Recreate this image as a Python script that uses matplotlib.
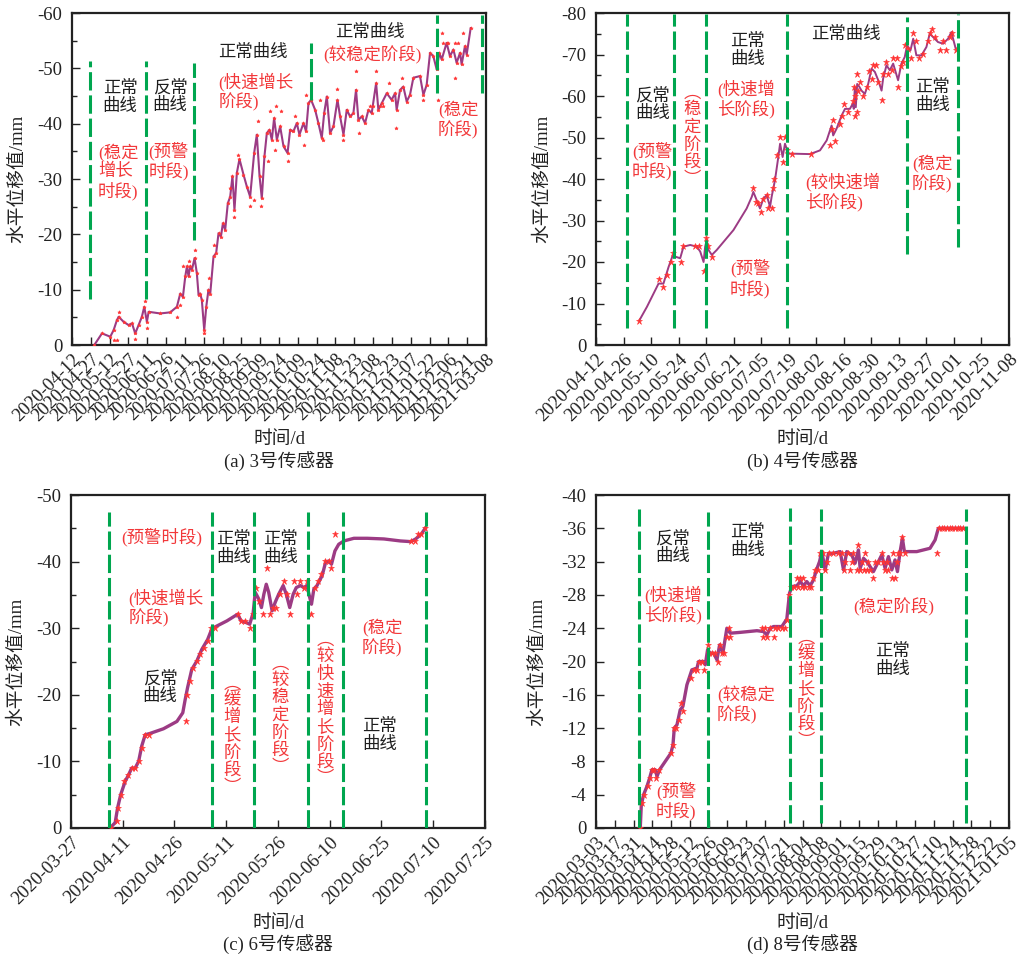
import numpy as np
import pandas as pd
import matplotlib
matplotlib.use("Agg")
import matplotlib.pyplot as plt

plt.rcParams["font.family"] = ["Liberation Serif", "Noto Sans CJK SC"]
plt.rcParams["axes.unicode_minus"] = False

LINE_C = "#9C3B84"
STAR_C = "#FF3434"
GREEN = "#00A64F"
RED_T = "#F2383A"
BLACK_T = "#1E1E1E"

# ---------------- sensor 3 ----------------
A_START = "2020-04-12"
A_STEP = 15
A_XLABELS = ["2020-04-12", "2020-04-27", "2020-05-12", "2020-05-27", "2020-06-11",
             "2020-06-26", "2020-07-11", "2020-07-26", "2020-08-10", "2020-08-25",
             "2020-09-09", "2020-09-24", "2020-10-09", "2020-10-24", "2020-11-08",
             "2020-11-23", "2020-12-08", "2020-12-23", "2021-01-07", "2021-01-22",
             "2021-02-06", "2021-02-21", "2021-03-08"]
A_YTICKS = [0, -10, -20, -30, -40, -50, -60]
A_LINE = [(17.8, 0), (23.9, -2.1), (30.5, -1.5), (33.2, -2.7), (35.8, -4.5), (37.2, -5.1),
          (41.1, -4.2), (45.1, -3.6), (47.8, -3.9), (50.4, -2.1), (53.1, -3.6), (55.7, -5.1),
          (57.6, -6.9), (59.7, -4.2), (61.1, -6.0), (70.3, -5.7), (78.3, -5.9), (83.6, -6.9),
          (86.3, -9.3), (88.4, -8.7), (90.3, -12.4), (91.6, -14.2), (92.9, -12.4), (94.2, -14.2),
          (95.6, -13.6), (97.7, -15.7), (99.5, -13.0), (100.9, -9.0), (102.2, -9.3), (103.5, -8.1),
          (105.4, -2.7), (107.0, -6.9), (108.8, -10.0), (110.2, -9.3), (112.8, -16.0), (114.9, -16.6),
          (116.8, -20.2), (118.7, -19.6), (120.3, -22.0), (122.1, -20.8), (124.2, -25.6), (126.1, -26.8),
          (127.9, -30.5), (129.5, -24.4), (131.4, -31.1), (133.5, -33.6), (136.7, -30.8), (139.4, -28.6),
          (142.0, -26.8), (145.2, -34.7), (147.3, -38.0), (149.5, -30.5), (151.3, -26.5), (153.4, -34.1),
          (155.3, -38.3), (157.4, -38.9), (159.3, -37.1), (161.1, -41.0), (163.3, -37.1), (165.9, -39.5),
          (168.6, -35.9), (171.8, -34.7), (173.9, -38.9), (176.5, -38.6), (179.2, -40.1), (181.3, -38.0),
          (184.5, -40.1), (186.6, -38.6), (188.5, -43.7), (190.6, -44.3), (193.8, -42.5), (196.4, -40.1),
          (199.1, -37.4), (201.0, -41.9), (203.1, -44.9), (205.7, -38.3), (208.4, -39.5), (211.6, -44.3),
          (213.7, -41.3), (216.4, -38.0), (219.0, -42.5), (221.7, -41.3), (224.3, -41.9), (226.4, -46.1),
          (228.3, -40.7), (231.0, -41.3), (233.6, -40.1), (236.3, -42.5), (238.9, -41.9), (242.4, -47.3),
          (244.2, -42.5), (246.9, -43.7), (250.9, -45.5), (254.8, -44.3), (257.5, -45.5), (258.8, -42.5),
          (261.5, -46.1), (264.1, -46.7), (266.8, -44.0), (269.4, -45.2), (272.1, -48.3), (277.4, -48.6),
          (280.1, -45.2), (282.7, -47.0), (285.4, -52.8), (288.0, -52.2), (290.7, -49.8), (292.8, -52.8),
          (294.7, -51.6), (298.6, -54.6), (301.3, -52.2), (304.0, -53.4), (306.6, -51.0), (309.3, -52.8),
          (310.6, -50.7), (313.2, -54.0), (314.6, -52.5), (317.8, -57.3)]
A_STARS_EXTRA = [(33.2, -0.9), (35.8, -0.9), (37.2, -6.0), (50.4, -1.0), (57.9, -8.0), (59.7, -3.0),
                 (83.6, -5.1), (86.3, -7.2), (88.4, -14.2), (92.9, -15.1), (97.7, -17.2), (104.9, -2.1),
                 (109.6, -12.1), (112.8, -18.1), (126.1, -28.3), (129.5, -23.2), (132.7, -34.4),
                 (142.0, -25.2), (144.7, -26.2), (150.8, -25.2), (147.9, -40.4), (156.6, -33.2),
                 (158.0, -42.2), (162.7, -43.2), (166.4, -42.2), (162.0, -35.3), (171.8, -33.2),
                 (177.9, -41.3), (185.0, -36.2), (186.6, -45.2), (197.8, -44.3), (199.9, -37.1),
                 (211.6, -46.3), (215.8, -37.1), (226.4, -49.5), (229.1, -38.3), (242.4, -49.5),
                 (258.3, -39.2), (253.0, -47.3), (262.8, -48.3), (280.1, -44.3), (292.0, -44.3),
                 (294.7, -56.4), (305.3, -48.3), (311.9, -56.4), (237.6, -43.2), (240.2, -43.2),
                 (245.5, -43.2), (248.2, -43.2), (296.0, -54.6), (300.0, -54.6), (305.0, -54.6),
                 (308.0, -54.6)]
A_GUIDE_DAY = [14.1, 58.7, 96.9, 190.6, 290.7, 326.5]
A_GUIDE_LO = [-8.4, -8.4, -19.0, -44.3, -45.5, -45.5]
A_GUIDE_HI = [-51.3, -51.3, -51.0, -54.6, -59.7, -59.7]
A_TEXTS = [("正常\n曲线", 0.116, 0.744, "k", "center"),
           ("(稳定\n增长\n时段)", 0.063, 0.521, "r", "left"),
           ("反常\n曲线", 0.237, 0.747, "k", "center"),
           ("(预警\n时段)", 0.184, 0.554, "r", "left"),
           ("正常曲线", 0.438, 0.880, "k", "center"),
           ("(快速增长\n阶段)", 0.353, 0.762, "r", "left"),
           ("正常曲线", 0.720, 0.940, "k", "center"),
           ("(较稳定阶段)", 0.725, 0.873, "r", "center"),
           ("(稳定\n阶段)", 0.884, 0.678, "r", "left")]

# ---------------- sensor 4 ----------------
B_START = "2020-04-12"
B_STEP = 14
B_XLABELS = ["2020-04-12", "2020-04-26", "2020-05-10", "2020-05-24", "2020-06-07",
             "2020-06-21", "2020-07-05", "2020-07-19", "2020-08-02", "2020-08-16",
             "2020-08-30", "2020-09-13", "2020-09-27", "2020-10-01", "2020-10-25",
             "2020-11-08"]
B_YTICKS = [0, -10, -20, -30, -40, -50, -60, -70, -80]
B_LINE = [(22.0, -5.9), (25.9, -9.2), (31.8, -14.8), (34.3, -14.8), (36.9, -18.8), (39.1, -21.7),
          (40.3, -21.3), (42.8, -20.9), (44.5, -23.7), (47.9, -24.1), (51.3, -23.7), (53.0, -22.5),
          (54.7, -20.0), (55.5, -23.7), (56.3, -25.3), (57.2, -22.9), (58.9, -21.7), (61.4, -22.9),
          (69.9, -27.7), (76.6, -32.9), (79.2, -35.7), (80.0, -36.9), (81.7, -34.9), (83.4, -32.9),
          (85.1, -35.3), (86.8, -36.1), (88.5, -33.3), (89.3, -35.7), (91.0, -39.7), (92.7, -45.3),
          (93.6, -48.5), (94.9, -45.3), (96.1, -48.5), (97.8, -46.1), (100.3, -46.1), (108.8, -46.0),
          (113.9, -46.9), (117.3, -49.3), (119.8, -52.9), (120.6, -50.5), (122.3, -52.1), (124.9, -55.3),
          (126.6, -56.9), (129.1, -56.9), (130.5, -58.1), (131.1, -56.9), (131.6, -62.1), (132.1, -57.3),
          (132.8, -62.9), (133.8, -62.3), (135.0, -61.3), (136.7, -60.5), (138.4, -62.9), (140.1, -66.6),
          (141.8, -65.8), (143.5, -63.8), (145.2, -61.3), (146.0, -64.2), (147.7, -67.4), (149.4, -66.2),
          (151.1, -67.8), (153.6, -63.8), (155.3, -67.8), (157.0, -69.4), (158.2, -72.2), (159.9, -71.0),
          (161.3, -73.8), (162.9, -69.8), (165.5, -69.8), (168.0, -71.8), (169.7, -75.0), (171.4, -74.2),
          (173.9, -73.0), (176.5, -72.6), (179.0, -73.8), (180.7, -75.4), (182.9, -71.4)]
B_STARS = [(22.0, -5.9), (31.8, -16.0), (34.3, -13.9), (36.0, -16.8), (38.1, -20.0), (39.1, -22.1),
           (43.1, -19.9), (44.2, -23.9), (50.1, -23.9), (52.6, -23.9), (55.0, -17.9), (55.8, -25.9),
           (56.7, -23.9), (58.9, -21.1), (80.0, -37.9), (81.4, -34.5), (82.6, -34.2), (83.8, -32.1),
           (85.1, -35.3), (86.8, -36.1), (87.6, -33.1), (89.3, -33.1), (90.2, -37.9), (90.7, -40.1),
           (91.9, -45.9), (93.6, -50.1), (95.3, -44.1), (96.1, -50.1), (97.0, -47.1), (99.5, -46.1),
           (109.1, -46.1), (119.0, -48.1), (119.8, -52.1), (120.6, -54.1), (121.5, -49.2), (124.0, -53.2),
           (124.9, -55.1), (126.1, -58.1), (128.3, -56.1), (130.5, -58.9), (131.3, -62.1), (131.6, -55.1),
           (131.8, -60.1), (132.5, -65.2), (132.8, -56.1), (133.3, -61.2), (134.2, -63.4), (135.9, -60.1),
           (137.6, -62.1), (138.9, -66.1), (140.1, -64.1), (140.9, -67.4), (142.6, -67.4), (143.5, -63.4),
           (145.2, -59.1), (145.7, -65.2), (147.7, -68.2), (148.6, -65.2), (150.3, -66.2), (151.1, -69.2),
           (152.8, -69.2), (153.6, -62.1), (155.3, -67.2), (156.2, -68.2), (157.0, -72.2), (158.7, -71.4),
           (160.4, -69.2), (161.3, -75.2), (162.6, -73.2), (164.3, -69.2), (166.3, -70.2), (168.9, -73.2),
           (169.7, -75.2), (171.1, -76.2), (172.3, -74.2), (174.8, -71.2), (176.5, -73.2), (178.2, -71.2),
           (179.9, -74.2), (181.2, -75.2), (182.9, -71.2)]
B_GUIDE_DAY = [15.7, 39.8, 56.0, 97.3, 157.9, 184.1]
B_GUIDE_LO = [-4.0, -4.0, -4.0, -4.0, -22.0, -23.7]
B_GUIDE_HI = [-79.8, -79.8, -79.8, -79.8, -79.0, -79.8]
B_TEXTS = [("反常\n曲线", 0.136, 0.723, "k", "center"),
           ("(预警\n时段)", 0.087, 0.554, "r", "left"),
           ("(稳定阶段)", 0.232, 0.627, "r", "vertical"),
           ("正常\n曲线", 0.366, 0.886, "k", "center"),
           ("(快速增\n长阶段)", 0.293, 0.741, "r", "left"),
           ("(预警\n时段)", 0.324, 0.199, "r", "left"),
           ("正常曲线", 0.605, 0.934, "k", "center"),
           ("(较快速增\n长阶段)", 0.506, 0.461, "r", "left"),
           ("正常\n曲线", 0.814, 0.747, "k", "center"),
           ("(稳定\n阶段)", 0.765, 0.515, "r", "left")]

# ---------------- sensor 6 ----------------
C_START = "2020-03-27"
C_STEP = 15
C_XLABELS = ["2020-03-27", "2020-04-11", "2020-04-26", "2020-05-11", "2020-05-26",
             "2020-06-10", "2020-06-25", "2020-07-10", "2020-07-25"]
C_YTICKS = [0, -10, -20, -30, -40, -50]
C_LINE = [(11.3, 0), (12.8, -0.8), (13.5, -3.0), (14.4, -5.0), (15.7, -7.0), (16.7, -8.0),
          (17.6, -9.0), (18.6, -9.0), (19.6, -10.0), (20.5, -12.3), (21.5, -14.0), (22.9, -14.2),
          (26.8, -14.9), (30.7, -16.0), (32.4, -17.3), (33.1, -19.3), (33.8, -21.1), (35.0, -23.8),
          (36.5, -25.1), (37.9, -26.8), (39.6, -28.3), (40.9, -30.0), (41.8, -30.2), (45.2, -31.1),
          (48.3, -32.1), (49.3, -31.1), (50.5, -30.9), (51.8, -30.6), (52.8, -32.3), (53.4, -35.4),
          (54.4, -34.4), (55.2, -33.1), (55.9, -35.1), (56.6, -36.6), (57.3, -35.4), (58.3, -32.6),
          (59.2, -33.9), (60.2, -35.1), (61.5, -36.4), (62.4, -35.1), (63.4, -33.1), (64.4, -35.1),
          (65.3, -36.1), (66.5, -36.4), (67.5, -36.1), (68.4, -36.4), (69.2, -34.6), (69.7, -33.6),
          (70.4, -35.9), (71.3, -36.4), (72.8, -37.9), (73.8, -39.9), (74.7, -40.1), (75.5, -39.6),
          (76.5, -41.6), (77.6, -42.6), (79.1, -43.1), (82.0, -43.5), (85.9, -43.5), (90.7, -43.4),
          (95.5, -43.1), (98.5, -43.0), (99.9, -43.4), (101.5, -44.1), (102.8, -45.1)]
C_STARS = [(11.6, 0), (13.3, -1.0), (13.5, -3.0), (14.4, -5.0), (15.5, -7.0), (16.5, -8.0),
           (17.6, -9.0), (18.6, -9.0), (19.6, -10.0), (20.5, -12.0), (21.5, -14.0), (22.7, -14.0),
           (33.3, -16.0), (33.6, -20.0), (34.6, -22.0), (35.5, -24.0), (36.5, -25.1), (37.5, -26.1),
           (38.6, -27.1), (39.6, -28.1), (40.7, -30.0), (41.6, -30.0), (48.3, -32.1), (49.3, -31.1),
           (50.5, -31.1), (51.8, -30.0), (52.7, -32.1), (53.7, -36.1), (54.4, -34.1), (55.6, -32.1),
           (56.8, -39.0), (57.8, -32.1), (58.6, -33.1), (59.5, -33.1), (60.5, -35.1), (61.7, -37.1),
           (62.6, -35.1), (63.6, -32.1), (64.6, -37.1), (65.5, -35.1), (66.5, -37.1), (67.5, -36.1),
           (68.4, -37.1), (69.7, -32.1), (70.6, -36.1), (71.5, -37.1), (72.6, -38.1), (73.6, -40.1),
           (74.7, -40.1), (75.5, -39.1), (76.5, -44.1), (98.5, -43.1), (99.6, -43.1), (100.6, -44.1),
           (101.5, -44.1), (102.5, -45.1)]
C_GUIDE_DAY = [11.1, 40.9, 53.1, 68.7, 78.9, 102.8]
C_GUIDE_LO = [0, 0, 0, 0, 0, 0]
C_GUIDE_HI = [-47.4] * 6
C_TEXTS = [("(预警时段)", 0.220, 0.874, "r", "center"),
           ("正常\n曲线", 0.392, 0.838, "k", "center"),
           ("正常\n曲线", 0.507, 0.838, "k", "center"),
           ("(快速增长\n阶段)", 0.138, 0.661, "r", "left"),
           ("反常\n曲线", 0.215, 0.420, "k", "center"),
           ("(缓增长阶段)", 0.389, 0.276, "r", "vertical"),
           ("(较稳定阶段)", 0.505, 0.336, "r", "vertical"),
           ("(较快速增长阶段)", 0.614, 0.354, "r", "vertical"),
           ("(稳定\n阶段)", 0.703, 0.571, "r", "left"),
           ("正常\n曲线", 0.746, 0.276, "k", "center")]

# ---------------- sensor 8 ----------------
D_START = "2020-03-03"
D_STEP = 14
D_XLABELS = ["2020-03-03", "2020-03-17", "2020-03-31", "2020-04-14", "2020-04-28",
             "2020-05-12", "2020-05-26", "2020-06-09", "2020-06-23", "2020-07-07",
             "2020-07-21", "2020-08-04", "2020-08-08", "2020-09-01", "2020-09-15",
             "2020-09-29", "2020-10-13", "2020-10-27", "2020-11-10", "2020-11-24",
             "2020-11-28", "2020-12-22", "2021-01-05"]
D_YTICKS = [0, -4, -8, -12, -16, -20, -24, -28, -32, -36, -40]
D_LINE = [(33.0, 0), (33.8, -2.8), (35.5, -4.0), (38.0, -5.0), (40.0, -6.0), (41.7, -7.0),
          (44.2, -7.0), (45.5, -6.2), (47.4, -7.0), (55.9, -9.0), (57.4, -10.0), (58.4, -12.0),
          (60.4, -12.4), (62.8, -14.2), (64.8, -14.6), (67.8, -17.2), (71.5, -19.0), (75.3, -19.2),
          (76.5, -20.0), (80.2, -20.0), (81.5, -19.6), (83.2, -21.4), (85.2, -21.0), (87.7, -21.0),
          (90.2, -20.2), (92.2, -22.0), (94.6, -21.0), (97.6, -24.0), (100.1, -23.4), (107.6, -23.5),
          (120.0, -23.7), (124.9, -23.6), (127.4, -23.2), (129.9, -24.0), (132.4, -24.2), (138.6, -24.2),
          (142.3, -25.1), (144.3, -28.2), (146.1, -29.0), (149.8, -29.1), (152.3, -29.6), (154.7, -29.1),
          (157.2, -29.6), (159.7, -29.1), (162.2, -29.8), (164.2, -30.9), (166.7, -32.0), (168.4, -33.2),
          (170.9, -31.0), (173.4, -33.0), (177.1, -33.0), (182.1, -33.2), (184.6, -31.0), (187.0, -33.2),
          (190.8, -32.8), (193.2, -31.8), (195.7, -33.4), (197.0, -31.2), (199.5, -32.4), (201.9, -32.0),
          (204.4, -31.4), (206.9, -30.8), (210.6, -32.0), (213.1, -32.8), (215.6, -31.2), (218.1, -32.6),
          (220.6, -31.0), (223.0, -32.2), (224.8, -30.8), (226.8, -33.2), (228.5, -34.8), (230.0, -33.2),
          (239.2, -33.2), (249.1, -33.6), (252.9, -34.6), (255.3, -36.0), (274.0, -36.0)]
D_STARS = [(33.0, 0), (34.3, -3), (36.0, -4), (38.5, -5), (40.5, -6), (41.7, -7), (43.5, -7),
           (45.0, -6), (46.7, -7), (55.9, -9), (57.1, -10), (57.9, -12), (59.9, -12), (61.6, -13),
           (63.3, -15), (64.8, -14), (71.0, -18), (72.8, -19), (75.3, -19), (77.0, -20), (79.0, -20),
           (80.2, -19), (83.2, -22), (84.0, -21), (86.4, -21), (88.9, -21), (90.7, -20), (92.6, -22),
           (93.9, -21), (95.6, -21), (97.6, -23), (98.9, -24), (100.1, -23), (123.7, -24), (124.9, -23),
           (126.2, -24), (127.4, -23), (129.9, -24), (132.4, -23), (133.6, -24), (136.1, -24),
           (138.6, -24), (141.1, -24), (142.8, -25), (144.3, -28), (145.3, -29), (147.3, -29),
           (149.8, -30), (151.0, -29), (152.3, -30), (153.5, -29), (154.7, -30), (156.0, -29),
           (158.5, -29), (160.2, -29), (162.2, -30), (163.4, -31), (165.2, -31), (167.2, -33),
           (169.6, -33), (170.9, -31), (172.1, -32), (174.1, -33), (177.1, -33), (180.8, -33),
           (183.3, -33), (184.6, -31), (185.8, -32), (188.3, -33), (189.5, -31), (190.8, -32),
           (192.0, -33), (194.5, -31), (195.7, -34), (197.0, -31), (198.2, -32), (199.5, -31),
           (200.7, -33), (201.9, -31), (203.2, -32), (204.4, -31), (206.9, -30), (208.1, -32),
           (210.6, -32), (213.1, -33), (214.4, -32), (215.6, -31), (216.8, -32), (218.1, -31),
           (220.6, -30), (221.8, -33), (223.0, -30), (224.3, -32), (225.5, -33), (226.8, -33),
           (228.5, -35), (230.5, -33), (254.1, -33), (256.1, -36), (257.8, -36), (259.8, -36),
           (261.8, -36), (263.8, -36), (265.8, -36), (267.8, -36), (269.7, -36), (271.7, -36),
           (273.7, -36)]
D_GUIDE_DAY = [31.8, 83.2, 144.8, 167.9, 275.7]
D_GUIDE_LO = [0, 0, -0.6, -0.6, -0.6]
D_GUIDE_HI = [-38.3, -38.0, -38.4, -38.3, -38.3]
D_TEXTS = [("反常\n曲线", 0.186, 0.841, "k", "center"),
           ("正常\n曲线", 0.366, 0.859, "k", "center"),
           ("(快速增\n长阶段)", 0.116, 0.670, "r", "left"),
           ("(预警\n时段)", 0.145, 0.081, "r", "left"),
           ("(较稳定\n阶段)", 0.293, 0.369, "r", "left"),
           ("(缓增长阶段)", 0.508, 0.414, "r", "vertical"),
           ("(稳定阶段)", 0.722, 0.664, "r", "center"),
           ("正常\n曲线", 0.719, 0.501, "k", "center")]

TEXT_SIZE = 12.5
CHAR_PITCH = 12.8   # points between stacked characters of vertical labels


def to_dates(start, days):
    return pd.Timestamp(start) + pd.to_timedelta(np.asarray(days, dtype=float), unit="D")


def vertical_label(ax, s, xf, yf, color):
    """Stack the characters of s top-to-bottom, with vertical-form brackets."""
    items = [("︵", 0.8)] + [(ch, 1.0) for ch in s.strip("()")] + [("︶", 0.8)]
    total = sum(w for _, w in items)
    y = total / 2.0
    for ch, w in items:
        yc = y - w / 2.0
        ax.annotate(ch, (xf, yf), xycoords="axes fraction",
                    xytext=(0, yc * CHAR_PITCH), textcoords="offset points",
                    ha="center", va="center", fontsize=TEXT_SIZE, color=color, zorder=6)
        y -= w


def draw_panel(ax, start, step, xlabels, yticks, minor_step, line, stars, guide_day,
               guide_lo, guide_hi, texts, caption, lw, ms, ylabel_x):
    ld, lv = zip(*line)
    sd, sv = zip(*stars)
    ax.plot(to_dates(start, ld), lv, color=LINE_C, lw=lw, zorder=3,
            solid_joinstyle="round", solid_capstyle="round")
    ax.plot(to_dates(start, sd), sv, ls="none", marker="*", ms=ms, color=STAR_C,
            mec=STAR_C, mew=0.4, zorder=4)
    ax.vlines(to_dates(start, guide_day), guide_lo, guide_hi, colors=GREEN,
              linestyles=(0, (6, 1.6)), lw=2.2, zorder=5)

    ticks = pd.date_range(start, periods=len(xlabels), freq=f"{step}D")
    ax.set_xlim(ticks[0], ticks[-1])
    ax.set_xticks(ticks)
    ax.set_xticklabels(xlabels, rotation=45, ha="right", va="top",
                       rotation_mode="anchor", fontsize=13.5)
    ax.set_ylim(0, min(yticks))
    ax.set_yticks(yticks)
    ax.set_yticklabels([str(v) for v in yticks], fontsize=13.5)
    if minor_step:
        ax.set_yticks(np.arange(0, min(yticks), -minor_step), minor=True)
    ax.tick_params(which="both", direction="in", top=False, right=False, width=1.0,
                   colors="#222222")
    ax.tick_params(axis="y", which="major", length=5.5, pad=7)
    ax.tick_params(axis="x", which="major", length=5.5, pad=4)
    ax.tick_params(which="minor", length=3.5)
    for sp in ax.spines.values():
        sp.set_linewidth(1.6)
        sp.set_color("#222222")

    ax.set_ylabel("水平位移值/mm", fontsize=13.5, color="#222222")
    ax.yaxis.set_label_coords(ylabel_x, 0.5)
    ax.text(0.5, -0.286, "时间/d", transform=ax.transAxes, ha="center", va="center",
            fontsize=13.5, color="#222222")
    ax.text(0.5, -0.352, caption, transform=ax.transAxes, ha="center", va="center",
            fontsize=13.5, color="#222222")

    for s, xf, yf, col, align in texts:
        c = RED_T if col == "r" else BLACK_T
        if align == "vertical":
            vertical_label(ax, s, xf, yf, c)
        else:
            ax.text(xf, yf, s, transform=ax.transAxes, ha=align, va="center",
                    fontsize=TEXT_SIZE, color=c, linespacing=1.15, zorder=6,
                    multialignment="left" if align == "left" else "center")


fig = plt.figure(figsize=(10.19, 9.56), dpi=100)
ax_a = fig.add_axes([72 / 1019, 611 / 956, 414 / 1019, 332 / 956])
ax_b = fig.add_axes([596 / 1019, 611 / 956, 413 / 1019, 332 / 956])
ax_c = fig.add_axes([71 / 1019, 128 / 956, 414 / 1019, 333 / 956])
ax_d = fig.add_axes([596 / 1019, 128 / 956, 413 / 1019, 333 / 956])

draw_panel(ax_a, A_START, A_STEP, A_XLABELS, A_YTICKS, 5, A_LINE, A_LINE + A_STARS_EXTRA,
           A_GUIDE_DAY, A_GUIDE_LO, A_GUIDE_HI, A_TEXTS, "(a) 3号传感器", 1.5, 2.6, -0.111)
draw_panel(ax_b, B_START, B_STEP, B_XLABELS, B_YTICKS, 5, B_LINE, B_STARS,
           B_GUIDE_DAY, B_GUIDE_LO, B_GUIDE_HI, B_TEXTS, "(b) 4号传感器", 1.4, 5.0, -0.109)
draw_panel(ax_c, C_START, C_STEP, C_XLABELS, C_YTICKS, 5, C_LINE, C_STARS,
           C_GUIDE_DAY, C_GUIDE_LO, C_GUIDE_HI, C_TEXTS, "(c) 6号传感器", 2.4, 4.6, -0.111)
draw_panel(ax_d, D_START, D_STEP, D_XLABELS, D_YTICKS, None, D_LINE, D_STARS,
           D_GUIDE_DAY, D_GUIDE_LO, D_GUIDE_HI, D_TEXTS, "(d) 8号传感器", 2.4, 4.6, -0.121)

fig.savefig("out.png", dpi=100)
